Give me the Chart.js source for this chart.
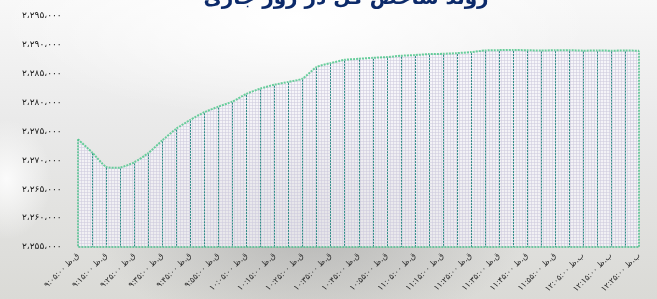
<!DOCTYPE html>
<html>
<head>
<meta charset="utf-8">
<script src="https://cdn.jsdelivr.net/npm/chart.js@4"></script>
<style>
  html, body { margin: 0; padding: 0; }
  body {
    width: 657px; height: 299px; overflow: hidden;
    background:
      radial-gradient(ellipse 300px 100px at 45% 6%, #ffffff 0%, rgba(255,255,255,0) 100%),
      radial-gradient(ellipse 220px 110px at 47% 75%, rgba(140,140,140,0.5) 0%, rgba(140,140,140,0) 100%),
      radial-gradient(ellipse 45px 60px at 1% 60%, #fbfbfb 0%, rgba(250,250,250,0) 100%),
      linear-gradient(to bottom, #f8f8f8 0%, #eaeaea 40%, #dadad6 100%);
  }
  #wrap { position: absolute; left: 0; top: 0; width: 657px; height: 299px; }
</style>
</head>
<body>
<div id="wrap"><canvas id="chartIndex" width="657" height="299"></canvas></div>
<script>
const chartTitle = 'روند شاخص کل در روز جاری';

const timeLabels = [
  '۹:۰۵:۰۰ ق.ظ', '۹:۱۰:۰۰ ق.ظ', '۹:۱۵:۰۰ ق.ظ', '۹:۲۰:۰۰ ق.ظ', '۹:۲۵:۰۰ ق.ظ', '۹:۳۰:۰۰ ق.ظ',
  '۹:۳۵:۰۰ ق.ظ', '۹:۴۰:۰۰ ق.ظ', '۹:۴۵:۰۰ ق.ظ', '۹:۵۰:۰۰ ق.ظ', '۹:۵۵:۰۰ ق.ظ',
  '۱۰:۰۰:۰۰ ق.ظ', '۱۰:۰۵:۰۰ ق.ظ', '۱۰:۱۰:۰۰ ق.ظ', '۱۰:۱۵:۰۰ ق.ظ', '۱۰:۲۰:۰۰ ق.ظ', '۱۰:۲۵:۰۰ ق.ظ',
  '۱۰:۳۰:۰۰ ق.ظ', '۱۰:۳۵:۰۰ ق.ظ', '۱۰:۴۰:۰۰ ق.ظ', '۱۰:۴۵:۰۰ ق.ظ', '۱۰:۵۰:۰۰ ق.ظ', '۱۰:۵۵:۰۰ ق.ظ',
  '۱۱:۰۰:۰۰ ق.ظ', '۱۱:۰۵:۰۰ ق.ظ', '۱۱:۱۰:۰۰ ق.ظ', '۱۱:۱۵:۰۰ ق.ظ', '۱۱:۲۰:۰۰ ق.ظ', '۱۱:۲۵:۰۰ ق.ظ',
  '۱۱:۳۰:۰۰ ق.ظ', '۱۱:۳۵:۰۰ ق.ظ', '۱۱:۴۰:۰۰ ق.ظ', '۱۱:۴۵:۰۰ ق.ظ', '۱۱:۵۰:۰۰ ق.ظ', '۱۱:۵۵:۰۰ ق.ظ',
  '۱۲:۰۰:۰۰ ب.ظ', '۱۲:۰۵:۰۰ ب.ظ', '۱۲:۱۰:۰۰ ب.ظ', '۱۲:۱۵:۰۰ ب.ظ', '۱۲:۲۰:۰۰ ب.ظ', '۱۲:۲۵:۰۰ ب.ظ'
];

const indexValues = [
  2273640, 2271390, 2268890, 2268750, 2269650, 2271230, 2273440, 2275470, 2277000, 2278330,
  2279300, 2280170, 2281510, 2282430, 2283100, 2283590, 2284150, 2286140, 2286840, 2287410,
  2287590, 2287760, 2287880, 2288110, 2288230, 2288400, 2288450, 2288570, 2288750, 2289030,
  2289090, 2289100, 2289080, 2289020, 2289070, 2289080, 2289000, 2289020, 2289000, 2289010,
  2289000
];

const yTickValues = [2255000, 2260000, 2265000, 2270000, 2275000, 2280000, 2285000, 2290000, 2295000];
const yTickLabels = ['۲،۲۵۵،۰۰۰', '۲،۲۶۰،۰۰۰', '۲،۲۶۵،۰۰۰', '۲،۲۷۰،۰۰۰', '۲،۲۷۵،۰۰۰',
                     '۲،۲۸۰،۰۰۰', '۲،۲۸۵،۰۰۰', '۲،۲۹۰،۰۰۰', '۲،۲۹۵،۰۰۰'];

// motif quadrillé de la zone remplie
function meshPattern() {
  const c = document.createElement('canvas');
  c.width = 3; c.height = 3;
  const g = c.getContext('2d');
  g.fillStyle = 'rgba(248,246,252,0.7)';
  g.fillRect(0, 0, 3, 3);
  g.fillStyle = 'rgba(206,202,220,0.55)';
  g.fillRect(0, 0, 3, 1);
  g.fillRect(0, 0, 1, 3);
  return g.createPattern(c, 'repeat');
}

// lignes verticales sous chaque point + contour vert
const dropLines = {
  id: 'dropLines',
  afterDatasetsDraw(chart) {
    const ctx = chart.ctx;
    const area = chart.chartArea;
    const pts = chart.getDatasetMeta(0).data;
    ctx.save();
    ctx.lineWidth = 1;
    ctx.setLineDash([2, 1]);
    ctx.strokeStyle = '#2d8c86';
    pts.forEach((p, i) => {
      if (i === 0 || i === pts.length - 1) return;
      const x = Math.round(p.x) + 0.5;
      ctx.beginPath();
      ctx.moveTo(x, p.y + 1);
      ctx.lineTo(x, area.bottom);
      ctx.stroke();
    });
    ctx.strokeStyle = '#4cc08a';
    ctx.lineWidth = 1.5;
    const first = pts[0], last = pts[pts.length - 1];
    ctx.beginPath();
    ctx.moveTo(first.x, first.y);
    ctx.lineTo(first.x, area.bottom);
    ctx.lineTo(last.x, area.bottom);
    ctx.lineTo(last.x, last.y);
    ctx.stroke();
    ctx.restore();
  }
};

const titleDraw = {
  id: 'titleDraw',
  afterDraw(chart) {
    const ctx = chart.ctx;
    ctx.save();
    ctx.font = 'bold 20px "DejaVu Sans"';
    ctx.fillStyle = '#0c2a6a';
    ctx.textAlign = 'center';
    ctx.textBaseline = 'alphabetic';
    ctx.direction = 'rtl';
    ctx.fillText(chartTitle, 346, 4);
    ctx.restore();
  }
};

const ctx = document.getElementById('chartIndex').getContext('2d');

const chart = new Chart(ctx, {
  type: 'line',
  data: {
    labels: timeLabels,
    datasets: [{
      data: indexValues,
      borderColor: 'rgba(80,200,140,0.85)',
      borderWidth: 2,
      borderDash: [2, 1],
      backgroundColor: meshPattern(),
      fill: 'start',
      tension: 0.2,
      pointRadius: 0
    }]
  },
  options: {
    responsive: false,
    animation: false,
    layout: { padding: { left: 22, right: 18, top: 16, bottom: 0 } },
    plugins: {
      legend: { display: false },
      tooltip: { enabled: false }
    },
    scales: {
      x: {
        offset: false,
        grid: { display: false, drawTicks: false },
        border: { display: false },
        afterFit: s => { s.height = 52; },
        ticks: {
          autoSkip: false,
          minRotation: 45,
          maxRotation: 45,
          padding: 4,
          color: '#2a2a2a',
          font: { family: 'DejaVu Sans', size: 8 },
          callback: function (value, index) {
            return index % 2 === 0 ? timeLabels[index] : '';
          }
        }
      },
      y: {
        min: 2255000,
        max: 2295000,
        grid: { display: false, drawTicks: false },
        border: { display: false },
        afterFit: s => { s.width = 56; },
        afterBuildTicks: s => { s.ticks = yTickValues.map(v => ({ value: v })); },
        ticks: {
          padding: 0,
          crossAlign: 'far',
          color: '#1a1a1a',
          font: { family: 'DejaVu Sans', size: 9 },
          callback: function (value) {
            return yTickLabels[yTickValues.indexOf(value)];
          }
        }
      }
    }
  },
  plugins: [dropLines, titleDraw]
});
</script>
</body>
</html>
